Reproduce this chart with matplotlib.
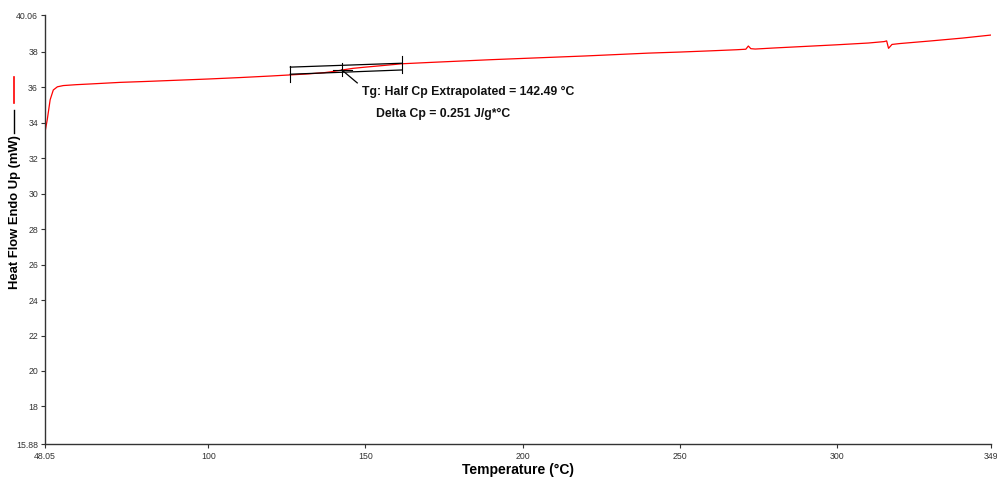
import matplotlib
matplotlib.use("Agg")
import matplotlib.pyplot as plt

plt.rcParams['font.family'] = ['Liberation Sans', 'DejaVu Sans']

# DSC trace
temperature = [48.05, 48.2, 48.8, 49.7, 50.7, 52.0, 53.9, 58.0, 62.5, 72.0, 80, 90, 100, 110,
               120, 126, 132, 137, 140, 143, 146, 150, 155, 161.7, 170, 180, 190, 200,
               210, 220, 230, 240, 250, 260, 268, 271, 271.8, 272.6, 274, 280, 290, 300,
               310, 315, 315.8, 316.4, 317.5, 320, 330, 340, 349]
heat_flow = [34.3, 33.6, 34.2, 35.3, 35.85, 36.03, 36.1, 36.15, 36.19, 36.28, 36.33, 36.40, 36.47, 36.55,
             36.64, 36.70, 36.76, 36.83, 36.90, 36.99, 37.07, 37.14, 37.22, 37.33, 37.40, 37.48, 37.56, 37.63,
             37.70, 37.77, 37.85, 37.93, 37.99, 38.06, 38.12, 38.15, 38.33, 38.18, 38.16, 38.22, 38.31, 38.40,
             38.50, 38.58, 38.62, 38.20, 38.42, 38.47, 38.62, 38.78, 38.95]

# glass transition analysis
tg = 142.49
tg_flow = 36.98
delta_cp = 0.251
range_start, range_end = 126.1, 161.7
lower_base = [36.74, 36.98]   # baseline before the step, extrapolated
upper_base = [37.14, 37.36]   # baseline after the step, extrapolated

x_ticks = [48.05, 100, 150, 200, 250, 300, 349]
x_labels = ['48.05', '100', '150', '200', '250', '300', '349']
y_ticks = [15.88, 18, 20, 22, 24, 26, 28, 30, 32, 34, 36, 38, 40.06]
y_labels = ['15.88', '18', '20', '22', '24', '26', '28', '30', '32', '34', '36', '38', '40.06']

fig = plt.figure(figsize=(9.97, 4.8), dpi=100)
ax = fig.add_axes([0.0451, 0.075, 0.9489, 0.893])

ax.plot(temperature, heat_flow, color='red', lw=0.9)

# tangent lines and range markers
ax.plot([range_start, range_end], lower_base, color='black', lw=0.9)
ax.plot([range_start, range_end], upper_base, color='black', lw=0.9)
ax.plot([range_start, range_start], [36.31, 37.21], color='black', lw=0.8)
ax.plot([range_end, range_end], [36.83, 37.77], color='black', lw=0.8)
# crosshair at Tg and leader
ax.plot([tg, tg], [tg_flow - 0.33, tg_flow + 0.42], color='black', lw=0.8)
ax.plot([tg - 2.9, tg + 3.2], [tg_flow, tg_flow], color='black', lw=0.8)
ax.plot([tg, tg + 4.9], [tg_flow, 36.25], color='black', lw=0.9)

ax.text(148.9, 35.73, f'Tg: Half Cp Extrapolated = {tg:.2f} °C', fontsize=8.8,
        fontweight='bold', ha='left', va='center', color='#111111')
ax.text(153.4, 34.50, f'Delta Cp = {delta_cp:.3f} J/g*°C', fontsize=8.8,
        fontweight='bold', ha='left', va='center', color='#111111')

ax.set_xlim(48.05, 349)
ax.set_ylim(15.88, 40.06)
ax.set_xticks(x_ticks)
ax.set_xticklabels(x_labels)
ax.set_yticks(y_ticks)
ax.set_yticklabels(y_labels)
ax.tick_params(labelsize=6.3, colors='#333333', length=3, width=0.8, pad=2)
ax.tick_params(axis='x', pad=3)

for side in ['top', 'right']:
    ax.spines[side].set_visible(False)
for side in ['left', 'bottom']:
    ax.spines[side].set_color('#333333')
    ax.spines[side].set_linewidth(1.0)

ax.set_xlabel('Temperature (°C)', fontsize=10, fontweight='bold', labelpad=1)

# y label with its line keys
fig.text(15.5 / 997, 1 - 212 / 480, 'Heat Flow Endo Up (mW)', rotation=90,
         fontsize=9.4, fontweight='bold', ha='center', va='center')
fig.lines.append(plt.Line2D([14 / 997, 14 / 997], [1 - 77 / 480, 1 - 103 / 480],
                            color='red', lw=1.2, transform=fig.transFigure))
fig.lines.append(plt.Line2D([14 / 997, 14 / 997], [1 - 110 / 480, 1 - 133 / 480],
                            color='black', lw=1.0, transform=fig.transFigure))

fig.savefig('out.png', dpi=100)
